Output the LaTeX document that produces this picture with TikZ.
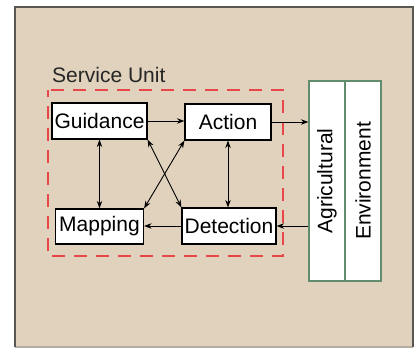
\documentclass[tikz,border=0pt]{standalone}
\usepackage{fontspec}
\setmainfont{Liberation Sans}
\usetikzlibrary{arrows.meta,calc}
\definecolor{panel}{RGB}{224,210,188}
\definecolor{unitred}{RGB}{232,70,72}
\definecolor{envgreen}{RGB}{98,140,110}
\definecolor{framegray}{RGB}{90,86,82}
\definecolor{framelight}{RGB}{180,172,160}
\tikzset{
  unitbox/.style={draw=black, line width=1.2pt, fill=white, inner sep=0pt,
    font=\fontsize{21}{25}\selectfont},
  envbox/.style={draw=envgreen, line width=1.2pt, fill=white, inner sep=0pt,
    minimum width=36pt, minimum height=200pt, font=\fontsize{21}{25}\selectfont},
  link/.style={line width=0.9pt, -{Stealth[length=7.5pt,width=5.5pt]}},
  dlink/.style={line width=0.9pt, {Stealth[length=7.5pt,width=5.5pt]}-{Stealth[length=7.5pt,width=5.5pt]}}
}
\begin{document}
\begin{tikzpicture}[x=1pt,y=-1pt]
\useasboundingbox (0,0) rectangle (418,348);
% outer panel
\coordinate (p1) at (15,7);
\coordinate (p2) at (413,347);
\fill[panel] (p1) rectangle (p2);
\draw[framelight, line width=1.3pt] (p1 |- p2) -- (p2);
\draw[framegray, line width=1.3pt] (p1 |- p2) -- (p1) -- (p2 |- p1) -- (p2);
% service unit boundary
\coordinate (su1) at (48,90);
\coordinate (su2) at (283,256);
\draw[unitred, line width=1.2pt, dash pattern=on 13pt off 9pt, dash phase=6pt] (su1) rectangle (su2);
\node[anchor=base west, inner sep=0pt, font=\fontsize{21}{25}\selectfont, text=black!85] (sulabel) at (52,82) {Service Unit};
% functional blocks
\node[unitbox, minimum width=95pt, minimum height=36pt] (g) at (99.5,121) {Guidance};
\node[unitbox, minimum width=86pt, minimum height=36pt] (a) at (228,122) {Action};
\node[unitbox, minimum width=88pt, minimum height=35pt] (m) at (99.5,226.5) {Mapping};
\node[unitbox, minimum width=94pt, minimum height=36pt] (d) at (229,226) {Detection};
% environment
\node[envbox] (agr) at (327,181) {};
\node[envbox] (envr) at (363,181) {};
\node[rotate=90, font=\fontsize{21}{25}\selectfont] (agrtext) at (agr.center) {Agricultural};
\node[rotate=90, font=\fontsize{21}{25}\selectfont] (envtext) at (envr.center) {Environment};
% connectors
\draw[link] (g.east) -- (a.west |- g.east);
\draw[link] (a.east) -- (agr.west |- a.east);
\draw[link] (agr.west |- d.east) -- (d.east);
\draw[link] (d.west) -- (m.east |- d.west);
\draw[dlink] (g.south) -- (m.north);
\draw[dlink] (a.south) -- (a.south |- d.north);
\draw[dlink] (g.south east) -- (d.north west);
\draw[dlink] (a.south west) -- (m.north east);
\end{tikzpicture}
\end{document}
